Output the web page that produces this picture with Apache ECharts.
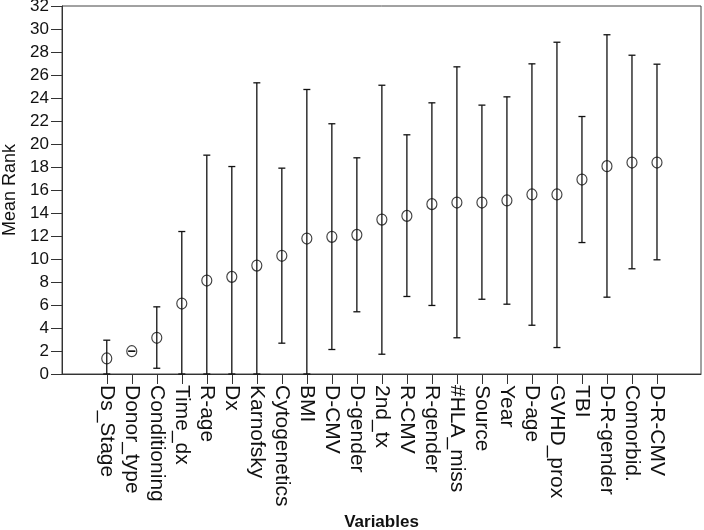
<!DOCTYPE html>
<html>
<head>
<meta charset="utf-8">
<script src="https://cdn.jsdelivr.net/npm/echarts@6/dist/echarts.min.js"></script>
<style>
html,body{margin:0;padding:0;background:#fff;}
#chart{width:704px;height:530px;}
</style>
</head>
<body>
<div id="chart"></div>
<script>
const categories = ["Ds_Stage","Donor_type","Conditioning","Time_dx","R-age","Dx","Karnofsky","Cytogenetics","BMI","D-CMV","D-gender","2nd_tx","R-CMV","R-gender","#HLA_miss","Source","Year","D-age","GVHD_prox","TBI","D-R-gender","Comorbid.","D-R-CMV"];
const meanRank = [1.35,1.98,3.15,6.13,8.13,8.45,9.43,10.28,11.78,11.93,12.1,13.43,13.75,14.77,14.91,14.91,15.09,15.61,15.61,16.91,18.07,18.39,18.39];
const lowerBound = [0,1.98,0.5,0,0,0,0,2.68,0,2.13,5.41,1.72,6.74,5.96,3.15,6.5,6.07,4.24,2.3,11.43,6.68,9.15,9.93];
const upperBound = [2.94,1.98,5.84,12.39,19.03,18.04,25.32,17.9,24.74,21.76,18.8,25.11,20.8,23.58,26.71,23.38,24.1,26.97,28.85,22.39,29.5,27.72,26.94];
const yTicks = [0,2,4,6,8,10,12,14,16,18,20,22,24,26,28,30,32];

const idx = categories.map((c,i)=>i);
const pointData = idx.map(i=>[i, meanRank[i]]);
const barData = idx.map(i=>[i, lowerBound[i], upperBound[i]]);

const chart = echarts.init(document.getElementById('chart'), null, {renderer:'canvas'});
chart.setOption({
  animation:false,
  backgroundColor:'#fff',
  grid:{left:62,right:3,top:6,height:368,outerBoundsMode:'none',containLabel:false,show:true,borderColor:'#444',borderWidth:1,backgroundColor:'transparent'},
  xAxis:{
    type:'value', min:-1.79, max:23.76,
    name:'Variables', nameLocation:'middle', nameGap:135,
    nameTextStyle:{fontFamily:'Liberation Sans',fontSize:17,fontWeight:'bold',color:'#111'},
    axisLine:{show:true,onZero:false,lineStyle:{color:'#333',width:1}},
    axisTick:{show:true,length:10,customValues:idx,lineStyle:{color:'#333'}},
    axisLabel:{show:true,rotate:-90,margin:11,customValues:idx,
      formatter:v=>categories[Math.round(v)]||'',
      fontFamily:'Liberation Sans',fontSize:21,color:'#111'},
    splitLine:{show:false}
  },
  yAxis:{
    type:'value', min:0, max:32, interval:2,
    name:'Mean Rank', nameLocation:'middle', nameGap:40,
    nameTextStyle:{fontFamily:'Liberation Sans',fontSize:18,color:'#111'},
    axisLine:{show:true,onZero:false,lineStyle:{color:'#333',width:1}},
    axisTick:{show:true,length:11,lineStyle:{color:'#333'}},
    axisLabel:{margin:13,fontFamily:'Liberation Sans',fontSize:17,color:'#111',
      formatter:v=>yTicks.indexOf(v)>=0?String(v):''},
    splitLine:{show:false}
  },
  series:[
    {
      type:'custom',
      data:barData,
      renderItem:function(params, api){
        const x = api.value(0);
        const lo = api.coord([x, api.value(1)]);
        const hi = api.coord([x, api.value(2)]);
        const cap = 3.5;
        const style = {stroke:'#111', lineWidth:1.3, fill:null};
        return {type:'group', children:[
          {type:'line', shape:{x1:lo[0],y1:lo[1],x2:hi[0],y2:hi[1]}, style:style},
          {type:'line', shape:{x1:lo[0]-cap,y1:lo[1],x2:lo[0]+cap,y2:lo[1]}, style:style},
          {type:'line', shape:{x1:hi[0]-cap,y1:hi[1],x2:hi[0]+cap,y2:hi[1]}, style:style}
        ]};
      },
      z:2
    },
    {
      type:'scatter',
      data:pointData,
      symbol:'circle',
      symbolSize:[10,11],
      itemStyle:{color:'rgba(0,0,0,0)',borderColor:'#111',borderWidth:1.2},
      z:3
    }
  ]
});
</script>
</body>
</html>
